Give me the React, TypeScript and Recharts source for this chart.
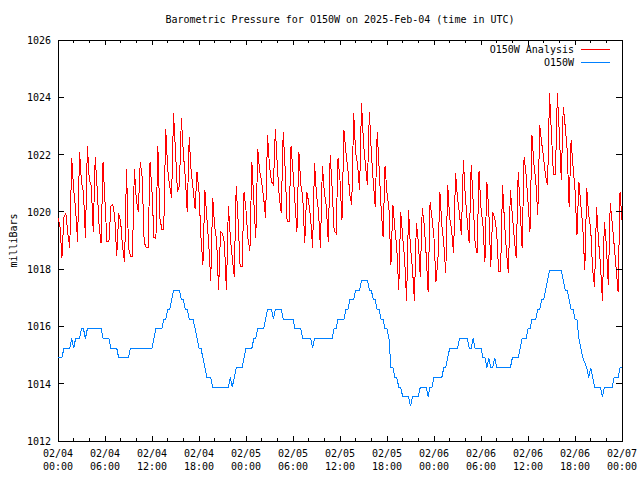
import React from 'react';
import {
  LineChart,
  Line,
  XAxis,
  YAxis,
  Legend,
  ReferenceArea
} from 'recharts';

// pressure samples, one every 15 minutes from 02/04 00:00 UTC (milliBars)
const SAMPLE_HOURS = 0.25;

const analysisMb = [
  1019.8, 1019.5, 1018.4, 1019.8, 1019.95, 1019.25, 1018.75, 1021.87, 1020.8, 1020.1, 1018.95, 1022.1,
  1021.0, 1020.7, 1019.1, 1022.3, 1021.1, 1020.9, 1019.3, 1021.9, 1020.8, 1019.5, 1018.9, 1021.75,
  1020.35, 1018.95, 1018.95, 1020.2, 1020.25, 1019.8, 1018.45, 1019.95, 1019.65, 1018.75, 1018.26, 1021.5,
  1018.75, 1018.45, 1018.45, 1021.5, 1020.4, 1020.0, 1021.75, 1021.2, 1018.95, 1018.75, 1018.75, 1021.75,
  1020.7, 1019.1, 1019.08, 1022.3, 1019.8, 1019.4, 1019.4, 1022.9, 1021.5, 1020.9, 1020.5, 1023.44,
  1022.1, 1020.7, 1020.9, 1023.27, 1022.05, 1021.2, 1020.0, 1022.6, 1021.4, 1020.8, 1020.1, 1021.4,
  1020.7, 1019.1, 1018.15, 1020.75, 1019.8, 1018.85, 1017.6, 1020.5, 1019.5, 1019.0, 1017.27, 1019.3,
  1019.25, 1018.9, 1017.27, 1020.2, 1019.1, 1018.4, 1017.74, 1020.9, 1019.65, 1018.1, 1018.1, 1020.7,
  1020.05, 1019.08, 1018.65, 1021.75, 1020.35, 1019.08, 1022.2, 1021.4, 1021.05, 1020.5, 1019.8, 1022.68,
  1021.6, 1021.05, 1020.95, 1022.9, 1021.6, 1020.5, 1019.95, 1022.8, 1021.5, 1019.65, 1019.65, 1022.3,
  1021.4, 1020.35, 1019.3, 1022.1, 1020.95, 1020.5, 1018.9, 1020.7, 1020.35, 1019.8, 1018.73, 1021.7,
  1020.6, 1020.05, 1018.73, 1021.6, 1020.7, 1020.2, 1018.95, 1022.0, 1020.8, 1019.35, 1019.25, 1021.87,
  1021.1, 1019.7, 1022.86, 1022.1, 1021.5, 1020.6, 1020.25, 1023.44, 1022.05, 1021.63, 1020.76, 1023.79,
  1022.4, 1021.63, 1020.94, 1023.5, 1022.05, 1021.05, 1020.18, 1022.8, 1021.52, 1020.12, 1019.13, 1021.6,
  1020.65, 1020.12, 1018.15, 1020.25, 1019.43, 1018.73, 1017.27, 1020.0, 1019.13, 1018.38, 1016.9, 1020.06,
  1018.73, 1018.03, 1016.9, 1019.6, 1018.96, 1017.74, 1020.12, 1019.54, 1018.5, 1017.2, 1020.35, 1019.78,
  1019.08, 1017.56, 1018.32, 1020.7, 1019.54, 1018.9, 1017.85, 1020.94, 1019.8, 1019.37, 1018.55, 1021.35,
  1020.47, 1019.95, 1019.2, 1021.8, 1020.53, 1019.66, 1018.9, 1021.64, 1020.36, 1018.9, 1018.55, 1021.43,
  1020.12, 1019.54, 1018.26, 1021.05, 1020.0, 1018.09, 1020.0, 1019.78, 1019.3, 1017.91, 1017.91, 1020.94,
  1019.66, 1018.6, 1017.85, 1020.76, 1019.89, 1019.08, 1018.38, 1021.4, 1020.12, 1018.73, 1021.93, 1021.3,
  1020.36, 1019.3, 1022.68, 1021.7, 1021.05, 1019.9, 1023.03, 1022.4, 1021.87, 1021.23, 1020.94, 1024.14,
  1022.68, 1021.29, 1021.29, 1024.14, 1022.74, 1021.11, 1023.67, 1022.98, 1022.16, 1020.18, 1022.5, 1021.58,
  1020.76, 1019.19, 1021.05, 1020.24, 1019.43, 1017.97, 1020.82, 1019.89, 1019.43, 1017.97, 1017.39, 1020.18,
  1019.02, 1018.15, 1016.9, 1019.66, 1018.84, 1017.45, 1020.3, 1019.6, 1018.84, 1018.03, 1017.2, 1020.7,
  1019.72
];

const observedMb = [
  1014.9, 1014.9, 1014.9, 1015.24, 1015.24, 1015.24, 1015.24, 1015.58, 1015.24, 1015.58, 1015.58, 1015.58,
  1015.92, 1015.92, 1015.58, 1015.92, 1015.92, 1015.92, 1015.92, 1015.92, 1015.92, 1015.92, 1015.92, 1015.58,
  1015.58, 1015.58, 1015.58, 1015.24, 1015.24, 1015.24, 1015.24, 1014.9, 1014.9, 1014.9, 1014.9, 1014.9,
  1014.9, 1015.24, 1015.24, 1015.24, 1015.24, 1015.24, 1015.24, 1015.24, 1015.24, 1015.24, 1015.24, 1015.24,
  1015.24, 1015.58, 1015.92, 1015.92, 1015.92, 1015.92, 1016.25, 1016.25, 1016.59, 1016.59, 1016.93, 1017.27,
  1017.27, 1017.27, 1017.27, 1016.93, 1016.93, 1016.59, 1016.59, 1016.25, 1016.25, 1016.25, 1015.92, 1015.58,
  1015.24, 1015.24, 1014.9, 1014.56, 1014.22, 1014.22, 1014.22, 1013.88, 1013.88, 1013.88, 1013.88, 1013.88,
  1013.88, 1013.88, 1013.88, 1013.88, 1014.22, 1013.88, 1014.22, 1014.56, 1014.56, 1014.56, 1014.56, 1014.9,
  1015.24, 1015.24, 1015.24, 1015.24, 1015.58, 1015.58, 1015.92, 1015.92, 1015.92, 1015.92, 1016.25, 1016.59,
  1016.59, 1016.59, 1016.25, 1016.59, 1016.59, 1016.59, 1016.59, 1016.25, 1016.25, 1016.25, 1016.25, 1016.25,
  1016.25, 1015.92, 1015.92, 1015.92, 1015.92, 1015.58, 1015.58, 1015.58, 1015.58, 1015.58, 1015.24, 1015.58,
  1015.58, 1015.58, 1015.58, 1015.58, 1015.58, 1015.58, 1015.58, 1015.58, 1015.58, 1015.92, 1015.92, 1016.25,
  1016.25, 1016.25, 1016.25, 1016.59, 1016.59, 1016.93, 1016.93, 1016.93, 1017.27, 1017.27, 1017.27, 1017.61,
  1017.61, 1017.61, 1017.61, 1017.27, 1017.27, 1016.93, 1016.93, 1016.59, 1016.59, 1016.25, 1016.25, 1015.92,
  1015.92, 1015.58, 1014.56, 1014.56, 1014.22, 1014.22, 1013.88, 1013.88, 1013.55, 1013.55, 1013.55, 1013.55,
  1013.21, 1013.55, 1013.55, 1013.55, 1013.55, 1013.88, 1013.88, 1013.88, 1013.88, 1013.55, 1013.88, 1013.88,
  1014.22, 1014.22, 1014.22, 1014.22, 1014.22, 1014.56, 1014.56, 1014.9, 1015.24, 1015.24, 1015.24, 1015.24,
  1015.24, 1015.58, 1015.58, 1015.58, 1015.58, 1015.58, 1015.24, 1015.24, 1015.58, 1015.24, 1015.24, 1015.24,
  1015.24, 1014.9, 1014.9, 1014.56, 1014.9, 1014.56, 1014.56, 1014.9, 1014.56, 1014.56, 1014.56, 1014.56,
  1014.56, 1014.56, 1014.56, 1014.56, 1014.9, 1014.9, 1014.9, 1014.9, 1015.24, 1015.58, 1015.58, 1015.58,
  1015.92, 1015.92, 1016.25, 1016.25, 1016.25, 1016.59, 1016.59, 1016.93, 1016.93, 1017.27, 1017.61, 1017.95,
  1017.95, 1017.95, 1017.95, 1017.95, 1017.95, 1017.95, 1017.61, 1017.27, 1017.27, 1016.93, 1016.59, 1016.59,
  1016.25, 1016.25, 1015.58, 1015.24, 1014.9, 1014.73, 1014.56, 1014.22, 1014.56, 1014.22, 1013.88, 1013.88,
  1013.88, 1013.88, 1013.55, 1013.88, 1013.88, 1013.88, 1013.88, 1013.88, 1014.22, 1014.22, 1014.22, 1014.56,
  1014.56
];

const xTickHours = [
  0, 2, 4, 6, 8, 10, 12, 14, 16, 18, 20, 22, 24, 26, 28, 30, 32, 34, 36,
  38, 40, 42, 44, 46, 48, 50, 52, 54, 56, 58, 60, 62, 64, 66, 68, 70, 72
];
const majorTickHours = [0, 6, 12, 18, 24, 30, 36, 42, 48, 54, 60, 66, 72];
const tickDates = [
  '02/04', '02/04', '02/04', '02/04', '02/05', '02/05', '02/05',
  '02/05', '02/06', '02/06', '02/06', '02/06', '02/07'
];
const tickTimes = [
  '00:00', '06:00', '12:00', '18:00', '00:00', '06:00', '12:00',
  '18:00', '00:00', '06:00', '12:00', '18:00', '00:00'
];
const yTicks = [1012, 1014, 1016, 1018, 1020, 1022, 1024, 1026];
const legendOrder = ['O150W Analysis', 'O150W'];

const data = analysisMb.map((v, i) => ({
  hour: i * SAMPLE_HOURS,
  analysis: v,
  observed: observedMb[i]
}));

// plot box in pixels (matches the chart margins below)
const PLOT_LEFT = 58;
const PLOT_RIGHT = 622;
const PLOT_TOP = 40;
const PLOT_BOTTOM = 441;

const FONT = '"DejaVu Sans Mono", monospace';

const HourTick = (props: any) => {
  const { x, payload } = props;
  const h = payload.value;
  const idx = majorTickHours.indexOf(h);
  const len = idx >= 0 ? 5 : 3;
  return (
    <g>
      <line x1={x} x2={x} y1={PLOT_BOTTOM} y2={PLOT_BOTTOM - len} stroke="#000" shapeRendering="crispEdges" />
      <line x1={x} x2={x} y1={PLOT_TOP} y2={PLOT_TOP + len} stroke="#000" shapeRendering="crispEdges" />
      {idx >= 0 && (
        <text x={x} textAnchor="middle" fontFamily={FONT} fontSize={10} fill="#000">
          <tspan x={x} y={PLOT_BOTTOM + 16}>{tickDates[idx]}</tspan>
          <tspan x={x} y={PLOT_BOTTOM + 29}>{tickTimes[idx]}</tspan>
        </text>
      )}
    </g>
  );
};

const MbTick = (props: any) => {
  const { y, payload } = props;
  return (
    <g>
      <line x1={PLOT_LEFT} x2={PLOT_LEFT + 6} y1={y} y2={y} stroke="#000" shapeRendering="crispEdges" />
      <line x1={PLOT_RIGHT} x2={PLOT_RIGHT - 6} y1={y} y2={y} stroke="#000" shapeRendering="crispEdges" />
      <text x={PLOT_LEFT - 7} y={y} dy={4} textAnchor="end" fontFamily={FONT} fontSize={10} fill="#000">
        {payload.value}
      </text>
    </g>
  );
};

const LegendBox = (props: any) => {
  const items = [...(props.payload || [])].sort(
    (a: any, b: any) => legendOrder.indexOf(a.value) - legendOrder.indexOf(b.value)
  );
  return (
    <div style={{ fontFamily: FONT, fontSize: 10, color: '#000' }}>
      {items.map((entry: any) => (
        <div
          key={entry.value}
          style={{ display: 'flex', justifyContent: 'flex-end', alignItems: 'center', height: 13 }}
        >
          <span>{entry.value}</span>
          <span
            style={{
              display: 'inline-block',
              width: 29,
              height: 0,
              marginLeft: 7,
              borderTop: `1px solid ${entry.color}`
            }}
          />
        </div>
      ))}
    </div>
  );
};

const App: React.FC = () => {
  return (
    <div style={{ position: 'absolute', left: 0, top: 0, width: 640, height: 480, background: '#fff' }}>
      <div
        style={{
          position: 'absolute',
          left: PLOT_LEFT,
          width: PLOT_RIGHT - PLOT_LEFT,
          top: 14,
          textAlign: 'center',
          fontFamily: FONT,
          fontSize: 10,
          lineHeight: '12px',
          color: '#000'
        }}
      >
        Barometric Pressure for O150W on 2025-Feb-04 (time in UTC)
      </div>
      <LineChart
        width={640}
        height={480}
        data={data}
        margin={{ top: PLOT_TOP, right: 640 - PLOT_RIGHT, left: 0, bottom: 0 }}
      >
        <XAxis
          dataKey="hour"
          type="number"
          domain={[0, 72]}
          ticks={xTickHours}
          interval={0}
          height={480 - PLOT_BOTTOM}
          tickLine={false}
          axisLine={false}
          tick={<HourTick />}
        />
        <YAxis
          domain={[1012, 1026]}
          ticks={yTicks}
          interval={0}
          width={PLOT_LEFT}
          tickLine={false}
          axisLine={false}
          tick={<MbTick />}
          label={{
            value: 'milliBars',
            angle: -90,
            position: 'insideLeft',
            offset: 13,
            style: { textAnchor: 'middle', fontFamily: FONT, fontSize: 10, fill: '#000' }
          }}
        />
        <ReferenceArea
          x1={0}
          x2={72}
          y1={1012}
          y2={1026}
          fill="none"
          fillOpacity={0}
          stroke="#000"
          strokeWidth={1}
          strokeOpacity={1}
          ifOverflow="visible"
          shapeRendering="crispEdges"
        />
        <Legend
          layout="vertical"
          verticalAlign="middle"
          align="center"
          content={<LegendBox />}
          wrapperStyle={{ top: 43, left: 0, width: 610 }}
        />
        <Line
          type="linear"
          dataKey="analysis"
          name="O150W Analysis"
          stroke="#ff0000"
          strokeWidth={1}
          dot={false}
          activeDot={false}
          isAnimationActive={false}
          shapeRendering="crispEdges"
        />
        <Line
          type="linear"
          dataKey="observed"
          name="O150W"
          stroke="#0080ff"
          strokeWidth={1}
          dot={false}
          activeDot={false}
          isAnimationActive={false}
          shapeRendering="crispEdges"
        />
      </LineChart>
    </div>
  );
};

export default App;
